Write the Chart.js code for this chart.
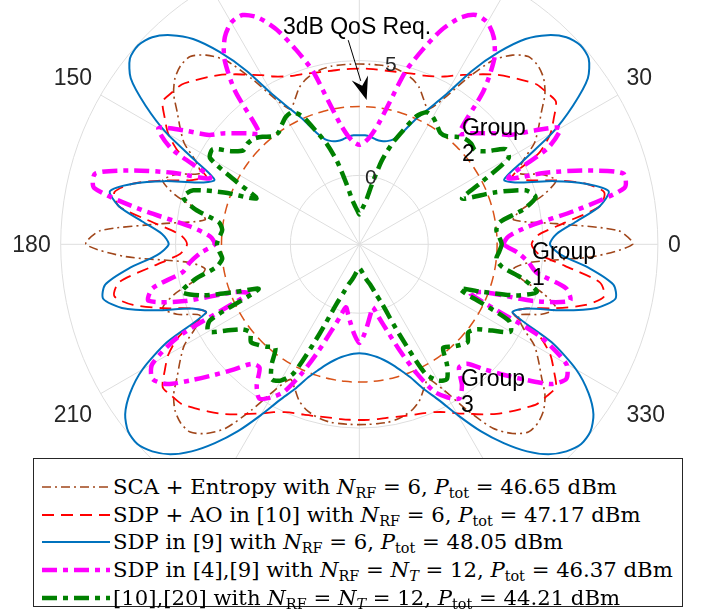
<!DOCTYPE html>
<html>
<head>
<meta charset="utf-8">
<script src="https://cdn.jsdelivr.net/npm/chart.js@4/dist/chart.umd.min.js"></script>
<style>
  html, body { margin: 0; padding: 0; background: #fff; }
  #wrap { position: relative; width: 702px; height: 614px; overflow: hidden; }
  #chart { position: absolute; left: 0; top: 0; }
  #legend {
    position: absolute; left: 33px; top: 458px; width: 650px; height: 149px;
    border: 1px solid #262626; background: #fff; box-sizing: border-box;
    font-family: "DejaVu Serif", "Liberation Serif", serif; font-size: 21.2px; color: #000;
    padding-top: 14px;
  }
  .row { height: 27.7px; line-height: 27.7px; display: flex; align-items: center; white-space: nowrap; }
  .row svg { margin-left: 8px; margin-right: 3px; flex: none; }
  .row sub { font-size: 68%; vertical-align: -0.3em; line-height: 0; }
  .row i { font-style: italic; }
</style>
</head>
<body>
<div id="wrap">
  <canvas id="chart" width="702" height="614"></canvas>
  <div id="legend"></div>
</div>
<script>
// angle grid in degrees (counter-clockwise, 0 = east)
const angles = [0,3,6,9,12,15,18,21,24,27,30,33,36,39,42,45,48,51,54,57,60,63,66,69,72,75,78,81,84,87,
  90,93,96,99,102,105,108,111,114,117,120,123,126,129,132,135,138,141,144,147,150,153,156,159,162,165,168,171,174,177,
  180,183,186,189,192,195,198,201,204,207,210,213,216,219,222,225,228,231,234,237,240,243,246,249,252,255,258,261,264,267,
  270,273,276,279,282,285,288,291,294,297,300,303,306,309,312,315,318,321,324,327,330,333,336,339,342,345,348,351,354,357];

// beampattern gains (dB), one value per angle above
const scaEntropy = [8.9,8.3,5.6,3.8,4.2,5.3,6.0,5.5,4.6,5.0,5.8,6.3,6.8,7.4,7.8,8.0,8.0,7.6,6.9,5.6,4.3,3.6,3.9,4.3,4.55,4.7,4.8,4.85,4.85,4.85,
  4.85,4.85,4.85,4.85,4.8,4.7,4.55,4.3,3.9,3.6,4.3,5.6,6.9,7.6,8.0,8.0,7.8,7.4,6.8,6.3,5.8,5.0,4.6,5.5,6.0,5.3,4.2,3.8,5.6,8.3,
  8.9,7.2,4.5,3.8,4.2,5.3,6.0,5.5,4.6,5.0,5.8,6.3,6.8,7.4,7.8,8.0,8.0,7.6,6.9,5.6,4.3,3.6,3.9,4.3,4.55,4.7,4.8,4.85,4.85,4.85,
  4.85,4.85,4.85,4.85,4.8,4.7,4.55,4.3,3.9,3.6,4.3,5.6,6.9,7.6,8.0,8.0,7.8,7.4,6.8,6.3,5.8,5.0,4.6,5.5,6.0,5.3,4.2,3.8,4.5,7.2];

const sdpAO = [4.5,4.8,6.0,7.6,7.9,7.2,6.0,4.8,4.3,5.8,6.6,7.1,7.58,7.5,7.4,7.1,6.8,6.5,6.15,5.8,5.5,5.2,5.0,4.87,4.8,4.73,4.68,4.65,4.65,4.65,
  4.65,4.65,4.65,4.65,4.68,4.73,4.8,4.87,5.0,5.2,5.5,5.8,6.15,6.5,6.8,7.1,7.4,7.5,7.58,7.1,6.6,5.8,4.3,4.8,6.0,7.2,7.9,7.6,6.0,4.8,
  4.5,4.8,6.0,7.6,7.9,7.2,6.0,4.8,4.3,5.8,6.6,7.1,7.58,7.5,7.4,7.1,6.8,6.5,6.15,5.8,5.5,5.2,5.0,4.87,4.8,4.73,4.68,4.65,4.65,4.65,
  4.65,4.65,4.65,4.65,4.68,4.73,4.8,4.87,5.0,5.2,5.5,5.8,6.15,6.5,6.8,7.1,7.4,7.5,7.58,7.1,6.6,5.8,4.3,4.8,6.0,7.2,7.9,7.6,6.0,4.8];

const sdpNrf6 = [5.3,5.6,6.5,7.6,8.1,7.2,5.9,4.5,3.9,5.0,6.7,8.1,9.3,9.85,9.95,9.75,9.25,8.5,7.35,6.0,4.5,3.6,2.9,2.2,1.8,1.65,1.6,1.62,1.7,1.75,
  1.75,1.75,1.7,1.62,1.6,1.65,1.8,2.2,2.9,3.6,4.5,6.0,7.35,8.5,9.25,9.75,9.95,9.85,9.3,8.1,6.7,5.0,3.9,4.5,5.9,7.2,8.1,7.6,6.5,5.6,
  5.3,5.8,7.1,8.2,8.4,7.7,6.3,4.8,4.3,6.4,7.9,8.9,9.6,9.95,10.0,9.75,9.3,8.6,7.7,6.7,5.6,4.6,3.9,3.2,2.75,2.4,2.15,1.97,1.85,1.77,
  1.74,1.77,1.85,1.97,2.15,2.4,2.75,3.2,3.9,4.6,5.6,6.7,7.7,8.6,9.3,9.75,10.0,9.95,9.6,8.9,7.9,6.4,4.3,4.8,6.3,7.7,8.4,8.2,7.1,5.8];

const sdpFull = [3.3,3.5,4.4,6.6,8.8,8.9,7.4,5.7,4.1,6.2,7.1,6.1,5.1,4.67,4.22,3.83,3.5,5.6,7.0,7.75,8.15,8.2,7.8,7.0,5.9,4.8,3.3,2.3,1.75,1.45,
  1.33,1.45,1.75,2.3,3.3,4.8,5.9,7.0,7.8,8.2,8.15,7.75,7.0,5.6,3.5,3.83,4.22,4.67,5.1,6.1,7.1,6.2,4.1,5.7,7.4,8.9,8.8,6.6,4.4,3.5,
  3.3,3.9,4.4,4.8,6.2,6.5,5.0,2.8,2.3,5.8,7.4,7.75,7.35,6.4,5.5,4.7,4.0,3.9,4.6,5.0,4.7,4.2,3.15,2.0,1.0,0.3,-0.2,0.1,0.5,0.95,
  1.3,0.95,0.5,0.1,-0.2,0.3,1.0,2.0,3.15,4.2,4.7,5.0,4.6,3.9,4.0,4.7,5.5,6.4,7.35,7.75,7.4,5.8,2.3,2.8,5.0,6.5,6.2,4.8,4.4,3.9];

const fullDigital = [3.2,3.1,3.0,3.2,4.3,4.95,4.6,3.3,1.9,3.0,4.5,4.6,3.9,3.5,3.55,3.5,3.3,3.05,3.0,3.2,3.4,3.45,3.1,2.3,1.6,0.75,-0.3,-1.05,-1.35,-1.55,
  -1.7,-1.55,-1.35,-1.05,-0.3,0.75,1.6,2.3,3.1,3.45,3.4,3.2,3.0,3.05,3.3,3.5,3.55,3.5,3.9,4.6,4.5,3.0,1.9,3.3,4.6,4.95,4.3,3.2,3.0,3.1,
  3.2,3.1,3.0,3.3,4.3,5.0,4.2,2.8,1.8,4.3,4.6,3.9,3.3,3.1,3.35,3.2,3.0,2.8,3.5,4.0,3.85,3.3,1.3,-0.2,-0.8,-1.2,-1.4,-1.6,-1.78,-1.9,
  -1.96,-1.9,-1.78,-1.6,-1.4,-1.2,-0.8,-0.2,1.3,3.3,3.85,4.0,3.5,2.8,3.0,3.2,3.35,3.1,3.3,3.9,4.6,4.3,1.8,2.8,4.2,5.0,4.3,3.3,3.0,3.1];

const qosReq = [3,3,3,3,3,3,3,3,3,3,3,3,3,3,3,3,3,3,3,3,3,3,3,3,3,3,3,3,3,3,
  3,3,3,3,3,3,3,3,3,3,3,3,3,3,3,3,3,3,3,3,3,3,3,3,3,3,3,3,3,3,
  3,3,3,3,3,3,3,3,3,3,3,3,3,3,3,3,3,3,3,3,3,3,3,3,3,3,3,3,3,3,
  3,3,3,3,3,3,3,3,3,3,3,3,3,3,3,3,3,3,3,3,3,3,3,3,3,3,3,3,3,3];

const rTicks = [0, 5, 10];
const thetaTicks = [0, 30, 60, 90, 120, 150, 180, 210, 240, 270, 300, 330];
const rLimits = [-3, 10];

const legendLabels = [
  'SCA + Entropy with <i>N</i><sub>RF</sub> = 6, <i>P</i><sub>tot</sub> = 46.65 dBm',
  'SDP + AO in [10] with <i>N</i><sub>RF</sub> = 6, <i>P</i><sub>tot</sub> = 47.17 dBm',
  'SDP in [9] with <i>N</i><sub>RF</sub> = 6, <i>P</i><sub>tot</sub> = 48.05 dBm',
  'SDP in [4],[9] with <i>N</i><sub>RF</sub> = <i>N<sub>T</sub></i> = 12, <i>P</i><sub>tot</sub> = 46.37 dBm',
  '[10],[20] with <i>N</i><sub>RF</sub> = <i>N<sub>T</sub></i> = 12, <i>P</i><sub>tot</sub> = 44.21 dBm'
];

// text annotations, placed in (angle, gain) coordinates
const qosText = { text: '3dB QoS Req.', theta: 90.6, r: 6.42 };
const qosArrow = { from: [93.1, 5.9], to: [87.1, 3.29] };
const groupLabels = [
  { lines: ['Group', '1'], theta: -2.9, r: 4.53 },
  { lines: ['Group', '2'], theta: 48.3, r: 3.72 },
  { lines: ['Group', '3'], theta: -53.1, r: 4.38 }
];

// styles
const styles = [
  { data: scaEntropy, color: '#A0461A', width: 1.6, dash: [9, 4, 2, 4], order: 5 },
  { data: sdpAO, color: '#FF0000', width: 1.8, dash: [12, 7], order: 4 },
  { data: sdpNrf6, color: '#0072BD', width: 2, dash: [], order: 3 },
  { data: sdpFull, color: '#FF00FF', width: 4.5, dash: [15, 6, 5, 6], order: 2 },
  { data: fullDigital, color: '#008000', width: 4.5, dash: [15, 6, 5, 6], order: 1 }
];
const qosStyle = { color: '#D95319', width: 1.5, dash: [10, 6], order: 6 };

const AXIS_FONT = '"Liberation Sans", Arial, Helvetica, sans-serif';
const TEXT_COLOR = '#262626';

// radar draws clockwise from the start angle, so walk the angles backwards
const order = angles.map((a, i) => (angles.length - i) % angles.length);
const pick = arr => order.map(k => arr[k]);
const shownAngles = pick(angles);

function makeDataset(s) {
  return {
    data: pick(s.data),
    borderColor: s.color,
    borderWidth: s.width,
    borderDash: s.dash,
    borderCapStyle: 'butt',
    backgroundColor: 'transparent',
    fill: false,
    pointRadius: 0,
    tension: 0.25,
    clip: false,
    order: s.order
  };
}

function polarXY(scale, theta, value) {
  const d = scale.getDistanceFromCenterForValue(value);
  const a = theta * Math.PI / 180;
  return { x: scale.xCenter + d * Math.cos(a), y: scale.yCenter - d * Math.sin(a) };
}

// place the polar axes like the original figure (it is cropped at the top)
const placeAxes = {
  id: 'placeAxes',
  afterLayout(chart) {
    const s = chart.scales.r;
    s.xCenter = 359.3;
    s.yCenter = 244.3;
    s.drawingArea = 298.6;
  }
};

const polarText = {
  id: 'polarText',
  afterDraw(chart) {
    const s = chart.scales.r;
    const ctx = chart.ctx;
    ctx.save();
    ctx.fillStyle = TEXT_COLOR;

    // angle tick labels, anchored just outside the outer circle
    ctx.font = '23px ' + AXIS_FONT;
    thetaTicks.forEach(t => {
      const a = t * Math.PI / 180;
      const c = Math.cos(a), sn = Math.sin(a);
      const d = s.drawingArea + 10;
      ctx.textAlign = c > 0.01 ? 'left' : (c < -0.01 ? 'right' : 'center');
      ctx.textBaseline = sn > 0.01 ? 'bottom' : (sn < -0.01 ? 'top' : 'middle');
      const dy = sn < -0.01 ? 6 : (sn > 0.01 ? 0 : 1);
      ctx.fillText(String(t), s.xCenter + d * c, s.yCenter - d * sn + dy);
    });

    // radial tick labels along 80 degrees
    ctx.textAlign = 'center';
    ctx.textBaseline = 'middle';
    ctx.font = '21px ' + AXIS_FONT;
    rTicks.forEach(v => {
      const d = s.getDistanceFromCenterForValue(v) - 2;
      const a = 80 * Math.PI / 180;
      ctx.fillText(String(v), s.xCenter + d * Math.cos(a), s.yCenter - d * Math.sin(a));
    });

    // QoS annotation with arrow
    ctx.fillStyle = '#000';
    ctx.font = '23px ' + AXIS_FONT;
    const tp = polarXY(s, qosText.theta, qosText.r);
    ctx.fillText(qosText.text, tp.x, tp.y);
    const p0 = polarXY(s, qosArrow.from[0], qosArrow.from[1]);
    const p1 = polarXY(s, qosArrow.to[0], qosArrow.to[1]);
    const ang = Math.atan2(p1.y - p0.y, p1.x - p0.x);
    const hl = 20, hw = 8.5;
    const bx = p1.x - hl * Math.cos(ang), by = p1.y - hl * Math.sin(ang);
    ctx.strokeStyle = '#000';
    ctx.lineWidth = 1;
    ctx.beginPath();
    ctx.moveTo(p0.x, p0.y);
    ctx.lineTo(bx, by);
    ctx.stroke();
    ctx.beginPath();
    ctx.moveTo(p1.x, p1.y);
    ctx.lineTo(bx - hw * Math.sin(ang) - 3 * Math.cos(ang), by + hw * Math.cos(ang) - 3 * Math.sin(ang));
    ctx.lineTo(bx + 5 * Math.cos(ang), by + 5 * Math.sin(ang));
    ctx.lineTo(bx + hw * Math.sin(ang) - 3 * Math.cos(ang), by - hw * Math.cos(ang) - 3 * Math.sin(ang));
    ctx.closePath();
    ctx.fill();

    // group labels (two lines, left aligned)
    ctx.textAlign = 'left';
    ctx.font = '23px ' + AXIS_FONT;
    groupLabels.forEach(g => {
      const p = polarXY(s, g.theta, g.r);
      g.lines.forEach((line, k) => ctx.fillText(line, p.x, p.y + k * 26));
    });
    ctx.restore();
  }
};

const datasets = styles.map(makeDataset);
datasets.push(makeDataset({ data: qosReq, ...qosStyle }));

new Chart(document.getElementById('chart'), {
  type: 'radar',
  data: { labels: shownAngles, datasets: datasets },
  options: {
    responsive: false,
    animation: false,
    devicePixelRatio: 1,
    layout: { padding: 0 },
    plugins: { legend: { display: false }, tooltip: { enabled: false } },
    elements: { line: { borderJoinStyle: 'round' } },
    scales: {
      r: {
        min: rLimits[0],
        max: rLimits[1],
        startAngle: 90,
        afterBuildTicks: scale => { scale.ticks = rTicks.map(v => ({ value: v })); },
        ticks: { display: false },
        pointLabels: { display: false },
        grid: { circular: true, color: '#dedede', lineWidth: 1 },
        angleLines: {
          color: '#dedede',
          lineWidth: ctx => (shownAngles[ctx.index] % 30 === 0 ? 1 : 0)
        }
      }
    }
  },
  plugins: [placeAxes, polarText]
});

// legend box
const legendEl = document.getElementById('legend');
styles.forEach((s, i) => {
  const row = document.createElement('div');
  row.className = 'row';
  const dash = s.dash.length ? s.dash.join(' ') : 'none';
  row.innerHTML = '<svg width="68" height="12"><line x1="0" y1="6" x2="68" y2="6" stroke="' + s.color +
    '" stroke-width="' + s.width + '" stroke-dasharray="' + dash + '"/></svg><span>' + legendLabels[i] + '</span>';
  legendEl.appendChild(row);
});
</script>
</body>
</html>
